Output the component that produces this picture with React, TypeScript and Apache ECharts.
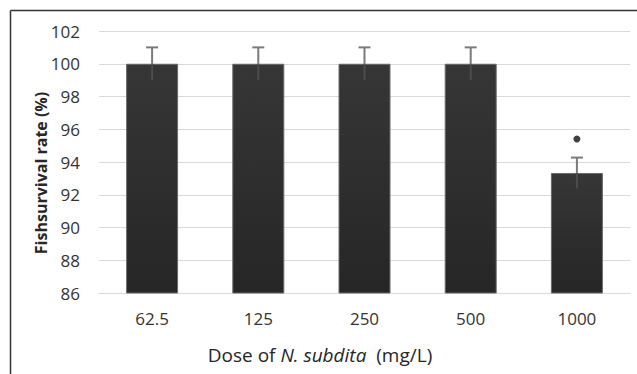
import React, { useEffect, useRef } from "react";
import * as echarts from "echarts";

const categories = ["62.5", "125", "250", "500", "1000"];
const survival = [100, 100, 100, 100, 93.33];
const errors = [1, 1, 1, 1, 0.94];
const significance = [null, null, null, null, 95.4];
const yTicks = { min: 86, max: 102, interval: 2 };

const FONT = "'Open Sans', 'DejaVu Sans', sans-serif";

export default function App() {
  const ref = useRef<HTMLDivElement>(null);
  useEffect(() => {
    if (!ref.current) return;
    const chart = echarts.init(ref.current, undefined, { renderer: "svg" });
    const errData = survival.map((v, i) => [i, v - errors[i], v + errors[i], v]);
    chart.setOption({
      animation: false,
      backgroundColor: "#ffffff",
      grid: { left: 99, right: 7, top: 31, bottom: 81 },
      xAxis: {
        type: "category",
        data: categories,
        axisLine: { show: true, lineStyle: { color: "#d9d9d9", width: 1 } },
        axisTick: { show: false },
        axisLabel: { color: "#333333", fontSize: 17, fontFamily: FONT, margin: 17 },
      },
      yAxis: {
        type: "value",
        min: yTicks.min,
        max: yTicks.max,
        interval: yTicks.interval,
        axisLine: { show: false },
        axisTick: { show: false },
        splitLine: { lineStyle: { color: "#d9d9d9", width: 1 } },
        axisLabel: { color: "#333333", fontSize: 17, fontFamily: FONT, margin: 19 },
      },
      graphic: [
        {
          type: "line",
          shape: { x1: 10.5, y1: 10.5, x2: 637, y2: 10.5 },
          style: { stroke: "#333333", lineWidth: 1.5 },
        },
        {
          type: "line",
          shape: { x1: 10.5, y1: 10.5, x2: 10.5, y2: 374 },
          style: { stroke: "#333333", lineWidth: 1.5 },
        },
        {
          type: "text",
          x: 41,
          y: 173,
          rotation: Math.PI / 2,
          style: {
            text: "Fishsurvival rate (%)",
            font: `bold 16px ${FONT}`,
            fill: "#262626",
            align: "center",
            verticalAlign: "middle",
          },
        },
        {
          type: "text",
          x: 320,
          y: 355,
          style: {
            text: "{n|Dose of }{i|N. subdita}{n|  (mg/L)}",
            align: "center",
            verticalAlign: "middle",
            rich: {
              n: { fontSize: 19, fontFamily: FONT, fill: "#262626" },
              i: { fontSize: 19, fontFamily: FONT, fontStyle: "italic", fill: "#262626" },
            },
          },
        },
      ],
      series: [
        {
          type: "bar",
          data: survival,
          barWidth: 52,
          itemStyle: {
            color: new echarts.graphic.LinearGradient(0, 0, 0, 1, [
              { offset: 0, color: "#363636" },
              { offset: 1, color: "#262626" },
            ]),
            borderColor: "#6a6a6a",
            borderWidth: 1,
          },
        },
        {
          type: "custom",
          data: errData,
          z: 5,
          renderItem: (params: any, api: any) => {
            const x = api.value(0);
            const lo = api.coord([x, api.value(1)]);
            const hi = api.coord([x, api.value(2)]);
            const mid = api.coord([x, api.value(3)]);
            return {
              type: "group",
              children: [
                {
                  type: "line",
                  shape: { x1: hi[0], y1: hi[1], x2: mid[0], y2: mid[1] },
                  style: { stroke: "#7a7a7a", lineWidth: 2 },
                },
                {
                  type: "line",
                  shape: { x1: mid[0], y1: mid[1], x2: lo[0], y2: lo[1] },
                  style: { stroke: "#4c4c4c", lineWidth: 2 },
                },
                {
                  type: "line",
                  shape: { x1: hi[0] - 6, y1: hi[1], x2: hi[0] + 6, y2: hi[1] },
                  style: { stroke: "#7a7a7a", lineWidth: 2 },
                },
              ],
            };
          },
        },
        {
          type: "scatter",
          data: significance,
          symbol: "circle",
          symbolSize: 7,
          itemStyle: { color: "#111111" },
          z: 6,
        },
      ],
    });
    return () => chart.dispose();
  }, []);
  return (
    <div
      ref={ref}
      style={{ position: "absolute", left: 0, top: 0, width: 637, height: 374 }}
    />
  );
}
